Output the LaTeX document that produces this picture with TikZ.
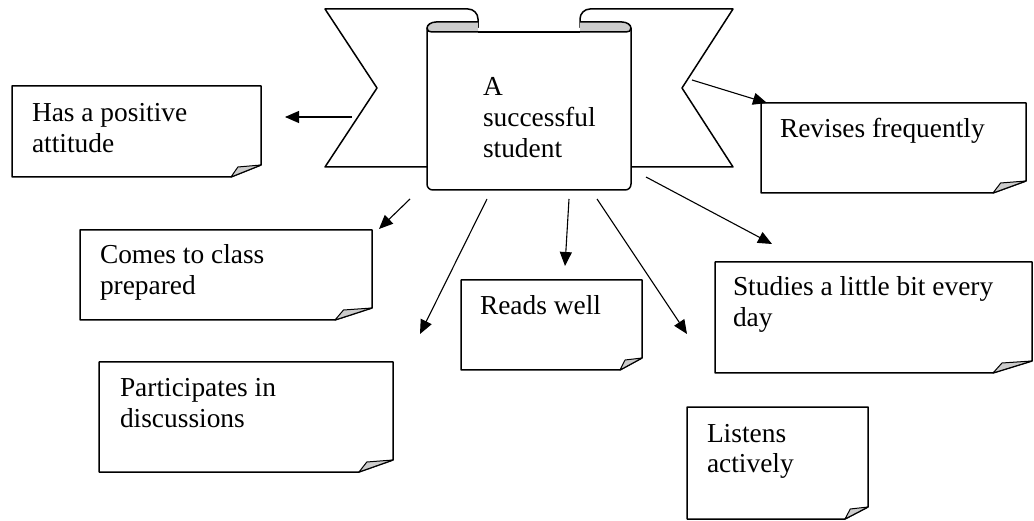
\documentclass[tikz,border=0pt]{standalone}
\usepackage{fontspec}
\setmainfont{Liberation Serif}
\usetikzlibrary{arrows.meta,calc}
\definecolor{foldgray}{gray}{0.80}
\tikzset{
  bline/.style={line width=1.5pt, line join=round},
  conn/.style={line width=1.1pt, -{Triangle[length=14pt,width=12pt]}},
  notebox/.style={inner sep=0pt, outer sep=0pt},
  txt/.style={inner sep=0pt, outer sep=0pt, anchor=base west,
    font=\fontsize{27.4}{31}\selectfont},
}
% #1 node name, #2 fold width
\newcommand{\drawnote}[2]{%
  \draw[bline] (#1.north west) -- (#1.north east) -- ($(#1.south east)+(0,-12)$)
     -- ($(#1.south east)+(-#2,0)$) -- (#1.south west) -- cycle;
  \filldraw[line width=1pt, line join=round, fill=foldgray]
     ($(#1.south east)+(-#2,0)$) -- ($(#1.south east)+({-#2+0.23*#2},-10)$)
     -- ($(#1.south east)+(0,-12)$) -- cycle;
}
\begin{document}
\begin{tikzpicture}[x=1pt,y=-1pt]
\useasboundingbox (0,0) rectangle (1034,521);

% ---- banner ----
\draw[bline] (427,167) -- (325,167) -- (377,88) -- (325,9) -- (468,9)
   .. controls (473.5,9) and (478,13.5) .. (478,19) -- (478,32);
\draw[bline] (631,167) -- (733,167) -- (682,88) -- (733,9) -- (590,9)
   .. controls (584.5,9) and (580,13.5) .. (580,19) -- (580,32);
\filldraw[bline, fill=white] (427,28) -- (427,184)
   .. controls (427,187.5) and (429.5,190) .. (433,190) -- (625,190)
   .. controls (628.5,190) and (631,187.5) .. (631,184) -- (631,28);
\filldraw[bline, fill=foldgray] (478,22) -- (436,22)
   .. controls (431,22) and (427,25) .. (427,28)
   .. controls (427,31) and (429,32) .. (432,32) -- (478,32);
\filldraw[bline, fill=foldgray] (580,22) -- (622,22)
   .. controls (627,22) and (631,25) .. (631,28)
   .. controls (631,31) and (629,32) .. (626,32) -- (580,32);
\draw[bline] (478,32) -- (580,32);
\node[txt] (title) at (483,96) {\vtop{\hbox{A}\hbox{successful}\hbox{student}}};

% ---- note boxes ----
\node[notebox, minimum width=249pt, minimum height=91pt] (has) at (136.5,131.5) {};
\node[notebox, minimum width=265pt, minimum height=90pt] (rev) at (893.5,148) {};
\node[notebox, minimum width=292pt, minimum height=90pt] (comes) at (226,275) {};
\node[notebox, minimum width=294pt, minimum height=110pt] (part) at (246,417) {};
\node[notebox, minimum width=181pt, minimum height=90pt] (reads) at (551.5,325) {};
\node[notebox, minimum width=317pt, minimum height=111pt] (stud) at (873.5,317.5) {};
\node[notebox, minimum width=181pt, minimum height=112pt] (list) at (777.5,463) {};

\drawnote{has}{30}
\drawnote{rev}{33}
\drawnote{comes}{37}
\drawnote{part}{34}
\drawnote{reads}{22}
\drawnote{stud}{39}
\drawnote{list}{23}

\node[txt] (thas) at (32,122) {\vtop{\hbox{Has a positive}\hbox{attitude}}};
\node[txt] (trev) at (780,138) {Revises frequently};
\node[txt] (tcomes) at (100,264) {\vtop{\hbox{Comes to class}\hbox{prepared}}};
\node[txt] (tpart) at (120,396) {\vtop{\hbox{Participates in}\hbox{discussions}}};
\node[txt] (treads) at (480,315) {Reads well};
\node[txt] (tstud) at (733,296) {\vtop{\hbox{Studies a little bit every}\hbox{day}}};
\node[txt] (tlist) at (707,442) {\vtop{\hbox{Listens}\hbox{actively}}};

% ---- connectors ----
\coordinate (sHas) at (352,117);   \coordinate (eHas) at (285,117);
\coordinate (sRev) at (692,80);    \coordinate (eRev) at (767,103);
\coordinate (sStud) at (646,177);  \coordinate (eStud) at (772,244);
\coordinate (sList) at (597,199);  \coordinate (eList) at (687,334);
\coordinate (sReads) at (569,199); \coordinate (eReads) at (565,266);
\coordinate (sPart) at (487,199);  \coordinate (ePart) at (420,334);
\coordinate (sComes) at (410,199); \coordinate (eComes) at (379,229);

\draw[conn] (sHas) -- (eHas);
\draw[conn] (sRev) -- (eRev);
\draw[conn] (sStud) -- (eStud);
\draw[conn] (sList) -- (eList);
\draw[conn] (sReads) -- (eReads);
\draw[conn] (sPart) -- (ePart);
\draw[conn] (sComes) -- (eComes);
\end{tikzpicture}
\end{document}
